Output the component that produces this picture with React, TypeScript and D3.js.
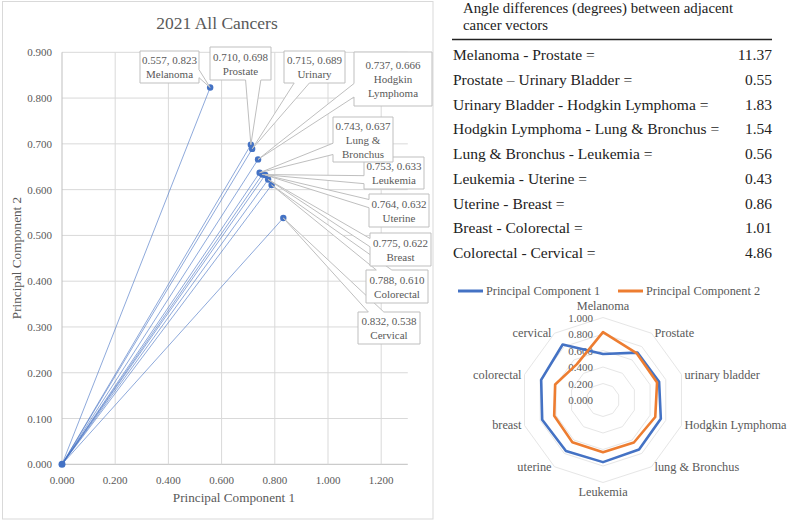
import * as d3 from "d3";

const WIDTH = 789;
const HEIGHT = 522;
const FONT = "'Liberation Serif', 'DejaVu Serif', serif";

// scatter data (principal component loadings)
const CANCERS = ["Melanoma", "Prostate", "Urinary", "Hodgkin Lymphoma", "Lung & Bronchus", "Leukemia", "Uterine", "Breast", "Colorectal", "Cervical"];
const PC1 = [0.557, 0.71, 0.715, 0.737, 0.743, 0.753, 0.764, 0.775, 0.788, 0.832];
const PC2 = [0.823, 0.698, 0.689, 0.666, 0.637, 0.633, 0.632, 0.622, 0.61, 0.538];
const LABEL_LINES = [["Melanoma"], ["Prostate"], ["Urinary"], ["Hodgkin", "Lymphoma"], ["Lung &", "Bronchus"], ["Leukemia"], ["Uterine"], ["Breast"], ["Colorectal"], ["Cervical"]];
const X_TICKS = [0, 0.2, 0.4, 0.6, 0.8, 1.0, 1.2];
const Y_TICKS = [0, 0.1, 0.2, 0.3, 0.4, 0.5, 0.6, 0.7, 0.8, 0.9];

// table of angle differences
const TABLE_TITLE = ["Angle differences (degrees) between adjacent", "cancer vectors"];
const ANGLE_PAIRS = [
  "Melanoma - Prostate =",
  "Prostate \u2013 Urinary Bladder =",
  "Urinary Bladder - Hodgkin Lymphoma =",
  "Hodgkin Lymphoma - Lung & Bronchus =",
  "Lung & Bronchus - Leukemia =",
  "Leukemia - Uterine =",
  "Uterine - Breast =",
  "Breast - Colorectal =",
  "Colorectal - Cervical =",
];
const ANGLE_VALUES = ["11.37", "0.55", "1.83", "1.54", "0.56", "0.43", "0.86", "1.01", "4.86"];

// radar chart
const RADAR_CATEGORIES = ["Melanoma", "Prostate", "urinary bladder", "Hodgkin Lymphoma", "lung & Bronchus", "Leukemia", "uterine", "breast", "colorectal", "cervical"];
const RADAR_TICKS = [0, 0.2, 0.4, 0.6, 0.8, 1.0];
const SERIES = [
  { name: "Principal Component 1", values: PC1, color: "#4472C4" },
  { name: "Principal Component 2", values: PC2, color: "#ED7D31" },
];

// label box placement (layout only)
const LABEL_BOXES = [
  { x: 140, y: 51, w: 59, h: 32 },
  { x: 210, y: 47, w: 61, h: 33 },
  { x: 284, y: 51, w: 61, h: 32 },
  { x: 354, y: 52, w: 78, h: 54 },
  { x: 333, y: 117, w: 60, h: 45 },
  { x: 364, y: 157, w: 60, h: 32 },
  { x: 369, y: 194, w: 60, h: 33 },
  { x: 370, y: 233, w: 61, h: 33 },
  { x: 366, y: 270, w: 62, h: 33 },
  { x: 358, y: 312, w: 62, h: 32 },
];

type Box = { x: number; y: number; w: number; h: number };

// wedge rect callout, following the office shape geometry
const calloutPath = (b: Box, tx: number, ty: number) => {
  const { x, y, w, h } = b;
  const dx = tx - (x + w / 2);
  const dy = ty - (y + h / 2);
  const dz = Math.abs(dy) - Math.abs((dx * h) / w);
  if (dz > 0) {
    const x1 = x + (w * (dx > 0 ? 7 : 2)) / 12;
    const x2 = x + (w * (dx > 0 ? 10 : 5)) / 12;
    if (dy > 0) return `M${x},${y}H${x + w}V${y + h}H${x2}L${tx},${ty}L${x1},${y + h}H${x}Z`;
    return `M${x},${y}H${x1}L${tx},${ty}L${x2},${y}H${x + w}V${y + h}H${x}Z`;
  }
  const y1 = y + (h * (dy > 0 ? 7 : 2)) / 12;
  const y2 = y + (h * (dy > 0 ? 10 : 5)) / 12;
  if (dx < 0) return `M${x},${y}H${x + w}V${y + h}H${x}V${y2}L${tx},${ty}L${x},${y1}Z`;
  return `M${x},${y}H${x + w}V${y1}L${tx},${ty}L${x + w},${y2}V${y + h}H${x}Z`;
};

const Scatter = () => {
  const x = d3.scaleLinear().domain([0, 1.3]).range([62, 407.8]);
  const y = d3.scaleLinear().domain([0, 0.9]).range([464.3, 52.3]);
  const fmt = d3.format(".3f");
  // excel draws later labels underneath earlier ones
  const order = d3.range(CANCERS.length).reverse();
  return (
    <g>
      <rect x={2.5} y={1.5} width={430.5} height={517.5} fill="#fff" stroke="#d9d9d9" />
      <text x={217} y={29} textAnchor="middle" fontSize={17.5} fill="#595959">2021 All Cancers</text>
      {Y_TICKS.map((t) => (
        <g key={t}>
          <line x1={x(0)} x2={x(1.3)} y1={y(t)} y2={y(t)} stroke={t === 0 ? "#bfbfbf" : "#d9d9d9"} />
          <text x={52} y={y(t) + 4} textAnchor="end" fontSize={11} fill="#595959">{fmt(t)}</text>
        </g>
      ))}
      {X_TICKS.map((t) => (
        <g key={t}>
          <line x1={x(t)} x2={x(t)} y1={y(0.9)} y2={y(0)} stroke={t === 0 ? "#bfbfbf" : "#d9d9d9"} />
          <text x={x(t)} y={484} textAnchor="middle" fontSize={11} fill="#595959">{fmt(t)}</text>
        </g>
      ))}
      <text x={234} y={502} textAnchor="middle" fontSize={13.2} fill="#595959">Principal Component 1</text>
      <text transform={`translate(21,258) rotate(-90)`} textAnchor="middle" fontSize={13.2} fill="#595959">Principal Component 2</text>
      {CANCERS.map((c, i) => (
        <line key={c} x1={x(0)} y1={y(0)} x2={x(PC1[i])} y2={y(PC2[i])} stroke="#4472C4" strokeWidth={0.75} opacity={0.8} />
      ))}
      {CANCERS.map((c, i) => (
        <circle key={c} cx={x(PC1[i])} cy={y(PC2[i])} r={3.2} fill="#4472C4" />
      ))}
      <circle cx={x(0)} cy={y(0)} r={3.5} fill="#4472C4" />
      {order.map((i) => {
        const b = LABEL_BOXES[i];
        const lines = [`${fmt(PC1[i])}, ${fmt(PC2[i])}`, ...LABEL_LINES[i]];
        const top = b.y + b.h / 2 - ((lines.length - 1) * 14) / 2;
        return (
          <g key={CANCERS[i]}>
            <path d={calloutPath(b, x(PC1[i]), y(PC2[i]))} fill="#fff" stroke="#bfbfbf" strokeWidth={1} />
            {lines.map((l, j) => (
              <text key={j} x={b.x + b.w / 2} y={top + j * 14 + 4} textAnchor="middle" fontSize={11} fill="#595959">{l}</text>
            ))}
          </g>
        );
      })}
    </g>
  );
};

const AngleTable = () => {
  const rowY = d3.scaleLinear().domain([0, ANGLE_PAIRS.length - 1]).range([60, 258]);
  return (
    <g fontSize={15.5} fill="#222">
      {TABLE_TITLE.map((t, i) => (
        <text key={t} x={463} y={13 + i * 17} fontSize={14.8}>{t}</text>
      ))}
      <line x1={452} x2={772} y1={39.5} y2={39.5} stroke="#222" strokeWidth={1.5} />
      {ANGLE_PAIRS.map((p, i) => (
        <g key={p}>
          <text x={453} y={rowY(i)}>{p}</text>
          <text x={772} y={rowY(i)} textAnchor="end">{ANGLE_VALUES[i]}</text>
        </g>
      ))}
    </g>
  );
};

const Radar = () => {
  const cx = 603;
  const cy = 400;
  const r = d3.scaleLinear().domain([0, 1]).range([0, 82.5]);
  const n = RADAR_CATEGORIES.length;
  const angle = (i: number) => (i * 2 * Math.PI) / n;
  const ring = d3.lineRadial<number>().angle((_, i) => angle(i)).radius((d) => r(d)).curve(d3.curveLinearClosed);
  const fmt = d3.format(".3f");
  return (
    <g fill="#595959">
      {SERIES.map((s, i) => {
        const lx = i === 0 ? 458 : 618;
        return (
          <g key={s.name}>
            <line x1={lx} x2={lx + 25} y1={291} y2={291} stroke={s.color} strokeWidth={3} />
            <text x={lx + 28} y={295} fontSize={12.3}>{s.name}</text>
          </g>
        );
      })}
      <g transform={`translate(${cx},${cy})`}>
        {RADAR_TICKS.filter((t) => t > 0).map((t) => (
          <path key={t} d={ring(RADAR_CATEGORIES.map(() => t)) ?? ""} fill="none" stroke="#e6e6e6" strokeWidth={1} />
        ))}
        {RADAR_TICKS.map((t) => (
          <text key={t} x={-10} y={-r(t) + 4} textAnchor="end" fontSize={11}>{fmt(t)}</text>
        ))}
        {SERIES.map((s) => (
          <path key={s.name} d={ring(s.values) ?? ""} fill="none" stroke={s.color} strokeWidth={2.6} strokeLinejoin="round" />
        ))}
        {RADAR_CATEGORIES.map((c, i) => {
          const a = angle(i);
          const vx = r(1) * Math.sin(a);
          const vy = -r(1) * Math.cos(a);
          const s = Math.sin(a);
          let anchor = "middle";
          let tx = vx;
          let ty = vy + 4;
          if (s > 0.1) { anchor = "start"; tx = vx + 3; }
          else if (s < -0.1) { anchor = "end"; tx = vx - 3; }
          else ty = Math.cos(a) > 0 ? vy - 7.5 : vy + 13.5;
          return (
            <text key={c} x={tx} y={ty} textAnchor={anchor} fontSize={12.3}>{c}</text>
          );
        })}
      </g>
    </g>
  );
};

export default function App() {
  return (
    <div style={{ position: "absolute", left: 0, top: 0, width: WIDTH, height: HEIGHT, background: "#fff" }}>
      <svg width={WIDTH} height={HEIGHT} viewBox={`0 0 ${WIDTH} ${HEIGHT}`} style={{ display: "block", fontFamily: FONT }}>
        <rect width={WIDTH} height={HEIGHT} fill="#fff" />
        <Scatter />
        <AngleTable />
        <Radar />
      </svg>
    </div>
  );
}
